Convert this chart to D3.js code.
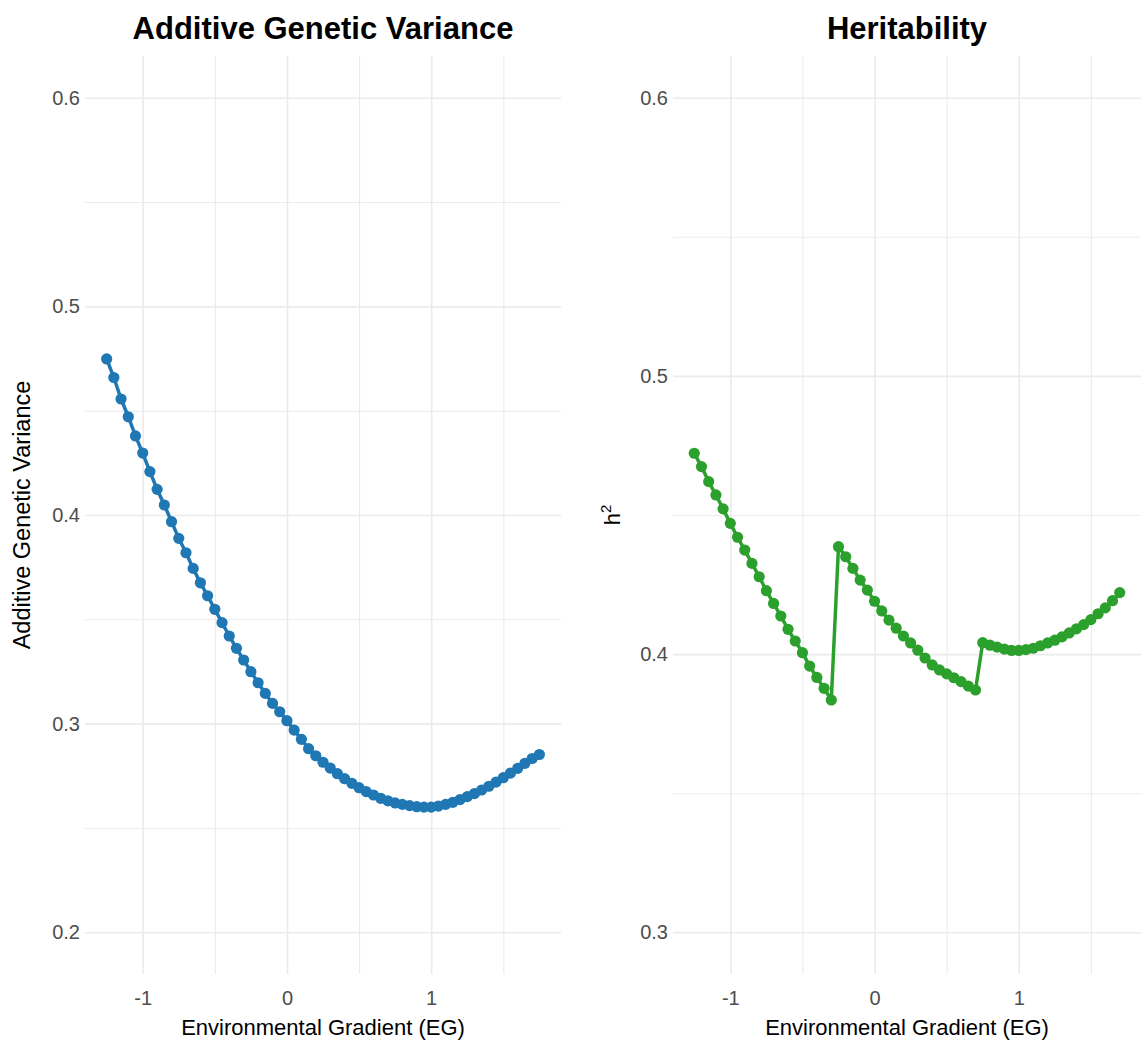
<!doctype html>
<html>
<head>
    <meta charset="UTF-8">
    <title>Additive Genetic Variance / Heritability</title>
    <script src="https://d3js.org/d3.v7.min.js"></script>
    <style>
        body { margin: 0; background: #fff; }
        text { font-family: "Liberation Sans", Arial, sans-serif; }
    </style>
</head>
<body>
<svg id="chart" width="1148" height="1042"></svg>
<script>
    // environmental gradient, left panel
    var egVa = [-1.25, -1.20, -1.15, -1.10, -1.05, -1.00, -0.95, -0.90, -0.85, -0.80,
        -0.75, -0.70, -0.65, -0.60, -0.55, -0.50, -0.45, -0.40, -0.35, -0.30,
        -0.25, -0.20, -0.15, -0.10, -0.05, 0.00, 0.05, 0.10, 0.15, 0.20,
        0.25, 0.30, 0.35, 0.40, 0.45, 0.50, 0.55, 0.60, 0.65, 0.70,
        0.75, 0.80, 0.85, 0.90, 0.95, 1.00, 1.05, 1.10, 1.15, 1.20,
        1.25, 1.30, 1.35, 1.40, 1.45, 1.50, 1.55, 1.60, 1.65, 1.70, 1.75];
    var vaValues = [0.4748, 0.4659, 0.4556, 0.4471, 0.4379, 0.4297, 0.4208, 0.4123, 0.4048, 0.3968,
        0.3888, 0.3819, 0.3744, 0.3675, 0.3613, 0.3548, 0.3484, 0.3420, 0.3361, 0.3305,
        0.3249, 0.3196, 0.3145, 0.3097, 0.3057, 0.3014, 0.2969, 0.2925, 0.2880, 0.2846,
        0.2815, 0.2787, 0.2760, 0.2736, 0.2714, 0.2693, 0.2674, 0.2658, 0.2642, 0.2630,
        0.2620, 0.2613, 0.2607, 0.2602, 0.2600, 0.2600, 0.2605, 0.2613, 0.2623, 0.2636,
        0.2650, 0.2665, 0.2682, 0.2700, 0.2720, 0.2741, 0.2763, 0.2786, 0.2810, 0.2833, 0.2852];

    // environmental gradient, right panel
    var egH2 = [-1.25, -1.20, -1.15, -1.10, -1.05, -1.00, -0.95, -0.90, -0.85, -0.80,
        -0.75, -0.70, -0.65, -0.60, -0.55, -0.50, -0.45, -0.40, -0.35, -0.30,
        -0.25, -0.20, -0.15, -0.10, -0.05, 0.00, 0.05, 0.10, 0.15, 0.20,
        0.25, 0.30, 0.35, 0.40, 0.45, 0.50, 0.55, 0.60, 0.65, 0.70,
        0.75, 0.80, 0.85, 0.90, 0.95, 1.00, 1.05, 1.10, 1.15, 1.20,
        1.25, 1.30, 1.35, 1.40, 1.45, 1.50, 1.55, 1.60, 1.65, 1.70];
    var h2Values = [0.4722, 0.4674, 0.4620, 0.4572, 0.4522, 0.4470, 0.4420, 0.4374, 0.4326, 0.4278,
        0.4228, 0.4182, 0.4137, 0.4089, 0.4047, 0.4005, 0.3957, 0.3916, 0.3877, 0.3835,
        0.4386, 0.4350, 0.4308, 0.4266, 0.4230, 0.4190, 0.4155, 0.4122, 0.4093, 0.4065,
        0.4040, 0.4014, 0.3986, 0.3961, 0.3943, 0.3929, 0.3915, 0.3901, 0.3885, 0.3871,
        0.4041, 0.4032, 0.4025, 0.4018, 0.4013, 0.4013, 0.4016, 0.4021, 0.4030, 0.4040,
        0.4050, 0.4062, 0.4076, 0.4091, 0.4106, 0.4124, 0.4145, 0.4166, 0.4192, 0.4221];

    // tick labels
    var xTicks = [-1, 0, 1];
    var xTickLabels = ["-1", "0", "1"];
    var xMinor = [-0.5, 0.5, 1.5];
    var vaTicks = [0.2, 0.3, 0.4, 0.5, 0.6];
    var vaMinor = [0.25, 0.35, 0.45, 0.55];
    var h2Ticks = [0.3, 0.4, 0.5, 0.6];
    var h2Minor = [0.35, 0.45, 0.55];

    var svg = d3.select("#chart");
    var panelTop = 56, panelBottom = 974;

    function panel(opt) {
        var x = d3.scaleLinear().domain(opt.xDomain).range([opt.left, opt.right]);
        var y = d3.scaleLinear().domain(opt.yDomain).range([panelBottom, panelTop]);
        var g = svg.append("g");
        var h = panelBottom - panelTop, w = opt.right - opt.left;

        // minor grid
        g.append("g").attr("transform", "translate(0," + panelBottom + ")")
            .call(d3.axisBottom(x).tickValues(xMinor).tickSize(-h).tickFormat(""))
            .call(gridStyle, 1.1);
        g.append("g").attr("transform", "translate(" + opt.left + ",0)")
            .call(d3.axisLeft(y).tickValues(opt.yMinor).tickSize(-w).tickFormat(""))
            .call(gridStyle, 1.1);

        // major grid + labels
        g.append("g").attr("transform", "translate(0," + panelBottom + ")")
            .call(d3.axisBottom(x).tickValues(xTicks).tickSize(-h).tickPadding(17)
                .tickFormat(function (d, i) { return xTickLabels[i]; }))
            .call(gridStyle, 1.6);
        g.append("g").attr("transform", "translate(" + opt.left + ",0)")
            .call(d3.axisLeft(y).tickValues(opt.yTicks).tickSize(-w).tickPadding(5)
                .tickFormat(d3.format(".1f")))
            .call(gridStyle, 1.6);

        var pts = opt.xs.map(function (d, i) { return [d, opt.ys[i]]; });
        g.append("path")
            .datum(pts)
            .attr("fill", "none")
            .attr("stroke", opt.color)
            .attr("stroke-width", 3.5)
            .attr("d", d3.line().x(function (d) { return x(d[0]); }).y(function (d) { return y(d[1]); }));
        g.selectAll("circle.pt").data(pts).enter().append("circle")
            .attr("class", "pt")
            .attr("cx", function (d) { return x(d[0]); })
            .attr("cy", function (d) { return y(d[1]); })
            .attr("r", 5.6)
            .attr("fill", opt.color);

        var mid = (opt.left + opt.right) / 2;
        g.append("text")
            .attr("x", mid).attr("y", 39)
            .attr("text-anchor", "middle")
            .attr("font-size", 31).attr("font-weight", "bold")
            .text(opt.title);
        g.append("text")
            .attr("x", mid).attr("y", 1035)
            .attr("text-anchor", "middle")
            .attr("font-size", 22)
            .text("Environmental Gradient (EG)");
        return g;
    }

    function gridStyle(sel, w) {
        sel.select(".domain").remove();
        sel.selectAll(".tick line").attr("stroke", "#EBEBEB").attr("stroke-width", w);
        sel.selectAll(".tick text").attr("fill", "#4D4D4D").attr("font-size", 20)
            .style("font-family", "'Liberation Sans', Arial, sans-serif");
    }

    panel({
        xs: egVa, ys: vaValues, color: "#1F77B4",
        xDomain: [-1.4, 1.9], yDomain: [0.18, 0.62], left: 85, right: 561,
        yTicks: vaTicks, yMinor: vaMinor, title: "Additive Genetic Variance"
    });
    svg.append("text")
        .attr("transform", "translate(30," + (panelTop + panelBottom) / 2 + ") rotate(-90)")
        .attr("text-anchor", "middle").attr("font-size", 23.5)
        .text("Additive Genetic Variance");

    panel({
        xs: egH2, ys: h2Values, color: "#2CA02C",
        xDomain: [-1.3975, 1.8475], yDomain: [0.285, 0.615], left: 673, right: 1141,
        yTicks: h2Ticks, yMinor: h2Minor, title: "Heritability"
    });
    var h2Label = svg.append("text")
        .attr("transform", "translate(620," + (panelTop + panelBottom) / 2 + ") rotate(-90)")
        .attr("text-anchor", "middle").attr("font-size", 22);
    h2Label.append("tspan").text("h");
    h2Label.append("tspan").attr("dy", -9).attr("font-size", 15).text("2");
</script>
</body>
</html>
